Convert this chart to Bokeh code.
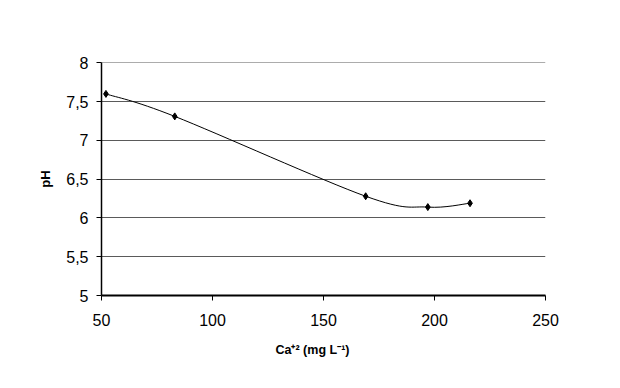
import numpy as np
from bokeh.plotting import figure
from bokeh.models import Range1d, FixedTicker, Title, ColumnDataSource
from bokeh.embed import file_html
from bokeh.resources import INLINE

# ---- data ----
calcium = [52, 83, 169, 197, 216]          # Ca+2 (mg L-1)
ph = [7.60, 7.31, 6.28, 6.14, 6.19]        # pH
x_ticks = [50, 100, 150, 200, 250]
y_ticks = [5, 5.5, 6, 6.5, 7, 7.5, 8]
y_tick_labels = ["5", "5,5", "6", "6,5", "7", "7,5", "8"]
x_title = "Ca\u207a\u00b2 (mg L\u207b\u00b9)"
y_title = "pH"

FONT = "Liberation Sans"

p = figure(width=612, height=380, output_backend="svg", toolbar_location=None,
           x_range=Range1d(50, 250), y_range=Range1d(5, 8.005),
           min_border_left=101, min_border_right=67, min_border_top=62, min_border_bottom=85)
p.outline_line_color = None
p.background_fill_color = "white"
p.border_fill_color = "white"

# grid
p.xgrid.grid_line_color = None
p.ygrid.grid_line_color = "#5a5a5a"
p.ygrid.grid_line_width = 1
p.ygrid.ticker = FixedTicker(ticks=y_ticks)

# axes
p.xaxis.ticker = FixedTicker(ticks=x_ticks)
p.yaxis.ticker = FixedTicker(ticks=y_ticks)
p.yaxis.major_label_overrides = {t: l for t, l in zip(y_ticks, y_tick_labels)}
for ax in (p.xaxis[0], p.yaxis[0]):
    ax.axis_line_color = "black"
    ax.major_tick_line_color = "black"
    ax.major_tick_in = 0
    ax.major_tick_out = 5
    ax.minor_tick_line_color = None
    ax.major_label_text_font = FONT
    ax.major_label_text_font_size = "16px"
    ax.major_label_text_color = "black"
p.xaxis.axis_line_width = 2
p.yaxis.axis_line_width = 1.5
p.xaxis.major_label_standoff = 13
p.yaxis.major_label_standoff = 8

p.yaxis.axis_label = y_title
p.yaxis.axis_label_text_font = FONT
p.yaxis.axis_label_text_font_size = "13px"
p.yaxis.axis_label_text_font_style = "bold"
p.yaxis.axis_label_text_color = "black"
p.yaxis.axis_label_standoff = 10

# x-axis title as a below-panel title, left aligned with an offset
p.add_layout(Title(text=x_title, align="left", offset=174, standoff=25,
                   text_font=FONT, text_font_size="12.5px", text_font_style="bold",
                   text_color="black"), "below")

# smoothed line (Catmull-Rom style Bezier segments through the data points)
xs = np.array(calcium, dtype=float)
ys = np.array(ph, dtype=float)
n = len(xs)
xp = np.concatenate([[xs[0]], xs, [xs[-1]]])
yp = np.concatenate([[ys[0]], ys, [ys[-1]]])
seg = dict(x0=[], y0=[], x1=[], y1=[], cx0=[], cy0=[], cx1=[], cy1=[])
for i in range(n - 1):
    j = i + 1  # index into padded arrays
    seg["x0"].append(xp[j]); seg["y0"].append(yp[j])
    seg["x1"].append(xp[j + 1]); seg["y1"].append(yp[j + 1])
    seg["cx0"].append(xp[j] + (xp[j + 1] - xp[j - 1]) / 6)
    seg["cy0"].append(yp[j] + (yp[j + 1] - yp[j - 1]) / 6)
    seg["cx1"].append(xp[j + 1] - (xp[j + 2] - xp[j]) / 6)
    seg["cy1"].append(yp[j + 1] - (yp[j + 2] - yp[j]) / 6)
p.bezier(x0="x0", y0="y0", x1="x1", y1="y1", cx0="cx0", cy0="cy0", cx1="cx1", cy1="cy1",
         source=ColumnDataSource(seg), line_color="black", line_width=1)

p.scatter(calcium, ph, marker="diamond", size=7, color="black")

open("out.html", "w").write(file_html(p, INLINE))
